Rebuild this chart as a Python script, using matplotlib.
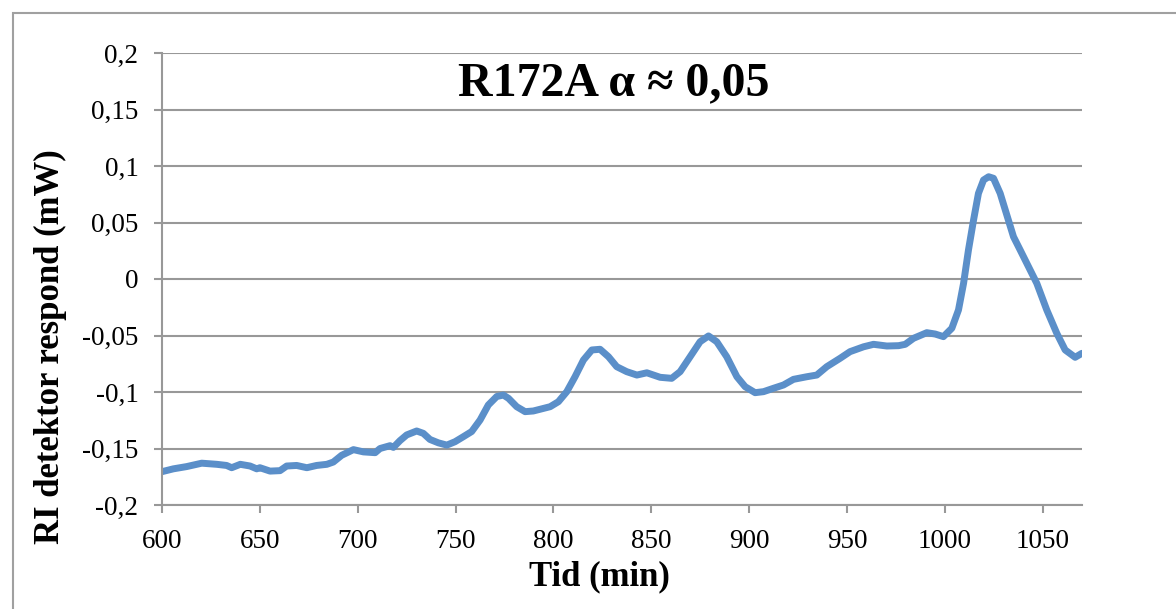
import matplotlib
matplotlib.use("Agg")
import matplotlib.pyplot as plt
from matplotlib.patches import Rectangle

# 数据
tid = [600, 605.8, 612.6, 620.3, 628, 633, 635.6, 640, 645, 648.4, 650, 655.2, 660.3,
       663.7, 668.8, 674, 679, 684.2, 687.5, 691.8, 697.8, 702.9, 708.9, 711.4, 716.5,
       718.2, 721.6, 725, 730.1, 733.5, 736.9, 741.2, 745.5, 749.7, 754, 758.2, 762.5,
       766.7, 771, 774.4, 777, 781.2, 785.5, 789.7, 793.1, 798.3, 802.5, 806.8, 811,
       815.3, 819.6, 823.8, 828.1, 832.3, 837.4, 842.6, 847.7, 854.5, 860.4, 864.7,
       869.8, 874.9, 879.2, 883.4, 888.5, 893.7, 897.9, 903, 907.3, 912.4, 917.5,
       922.6, 929.4, 934.5, 939.6, 946.4, 951.5, 958.4, 963.5, 970.3, 976.3, 979.7,
       983.9, 990.7, 995, 999.2, 1003.5, 1006.9, 1009.5, 1012, 1014.6, 1017.1, 1019.7,
       1022.3, 1024.8, 1028.2, 1031.6, 1035, 1038.4, 1041.8, 1046.9, 1052, 1057.1,
       1061.4, 1066.5, 1069.9]
respond = [-0.1705, -0.168, -0.166, -0.163, -0.164, -0.165, -0.167, -0.164, -0.1655,
           -0.168, -0.167, -0.170, -0.1696, -0.1655, -0.165, -0.167, -0.165, -0.164,
           -0.162, -0.156, -0.151, -0.153, -0.1537, -0.150, -0.1475, -0.149, -0.143,
           -0.138, -0.1345, -0.1366, -0.142, -0.145, -0.147, -0.144, -0.1395, -0.135,
           -0.1248, -0.1115, -0.104, -0.1027, -0.1056, -0.113, -0.1174, -0.1168,
           -0.1153, -0.113, -0.1086, -0.0997, -0.0865, -0.0717, -0.0628, -0.0622,
           -0.0688, -0.0776, -0.082, -0.085, -0.083, -0.087, -0.0879, -0.082, -0.0688,
           -0.0555, -0.0504, -0.0555, -0.0688, -0.0865, -0.0953, -0.1006, -0.0997,
           -0.0967, -0.0938, -0.0888, -0.0865, -0.085, -0.0776, -0.0702, -0.0643,
           -0.060, -0.0578, -0.0593, -0.0590, -0.0578, -0.0525, -0.0475, -0.0487,
           -0.051, -0.0436, -0.0274, -0.0038, 0.0257, 0.0522, 0.0758, 0.0876, 0.0905,
           0.0891, 0.0758, 0.0566, 0.0374, 0.0257, 0.0139, -0.0038, -0.0274, -0.048,
           -0.0628, -0.0693, -0.0658]

x_ticks = [600, 650, 700, 750, 800, 850, 900, 950, 1000, 1050]
y_ticks = [-0.2, -0.15, -0.1, -0.05, 0, 0.05, 0.1, 0.15, 0.2]
y_tick_labels = ["-0,2", "-0,15", "-0,1", "-0,05", "0", "0,05", "0,1", "0,15", "0,2"]

W, H = 1176, 609
SERIF = ["Liberation Serif", "DejaVu Serif"]
GRAY = "#989898"

fig = plt.figure(figsize=(W / 100, H / 100), dpi=100)
ax = fig.add_axes([162 / W, 1 - 505 / H, (1082 - 162) / W, (505 - 53) / H])

ax.plot(tid, respond, color="#5B8FC9", linewidth=5, solid_capstyle="round",
        solid_joinstyle="round")

ax.set_xlim(600, 1070)
ax.set_ylim(-0.2, 0.2)
ax.set_xticks(x_ticks)
ax.set_xticklabels([str(t) for t in x_ticks], fontfamily=SERIF, fontsize=19.5)
ax.set_yticks(y_ticks)
ax.set_yticklabels(y_tick_labels, fontfamily=SERIF, fontsize=19.5)
ax.tick_params(axis="both", direction="out", length=6, width=1.5, color=GRAY)
ax.tick_params(axis="y", pad=11)
ax.tick_params(axis="x", pad=11)

ax.grid(axis="y", color=GRAY, linewidth=1.5)
ax.set_axisbelow(True)
for s in ["top", "right"]:
    ax.spines[s].set_visible(False)
for s in ["left", "bottom"]:
    ax.spines[s].set_color(GRAY)
    ax.spines[s].set_linewidth(1.5)

# 标题和轴标签
fig.text(614 / W, 1 - 95 / H, "R172A α ≈ 0,05", ha="center", va="baseline",
         fontfamily=SERIF, fontweight="bold", fontsize=34.5)
fig.text(599 / W, 1 - 577 / H, "Tid (min)", ha="center", va="center",
         fontfamily=SERIF, fontweight="bold", fontsize=25)
fig.text(50 / W, 1 - 347 / H, "RI detektor respond (mW)", ha="center", va="center",
         rotation=90, fontfamily=SERIF, fontweight="bold", fontsize=25)

# 外框
fig.add_artist(Rectangle((13 / W, -0.5), 2, 1.5 - 13 / H, transform=fig.transFigure,
                         fill=False, edgecolor="#a0a0a0", linewidth=1.5))

fig.savefig("out.png", dpi=100)
